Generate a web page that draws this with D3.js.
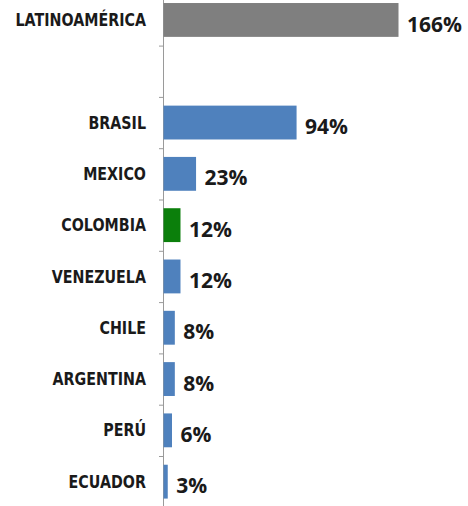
<!DOCTYPE html>
<html>
<head>
<meta charset="utf-8">
<script src="https://cdn.jsdelivr.net/npm/d3@7"></script>
<style>
  body { margin: 0; background: #fff; }
</style>
</head>
<body>
<svg id="chart" width="468" height="506"></svg>
<script>
// one empty row separates the region total from the countries
var categories = ["LATINOAMÉRICA", " ", "BRASIL", "MEXICO", "COLOMBIA", "VENEZUELA", "CHILE", "ARGENTINA", "PERÚ", "ECUADOR"];
var values = [166, null, 94, 23, 12, 12, 8, 8, 6, 3];
var barColors = ["#7f7f7f", null, "#4f81bd", "#4f81bd", "#0b7f0b", "#4f81bd", "#4f81bd", "#4f81bd", "#4f81bd", "#4f81bd"];

var svg = d3.select("#chart");
var axisX = 163;

var x = d3.scaleLinear().domain([0, 166]).range([axisX, 398]);
var y = d3.scaleBand()
  .domain(categories)
  .range([-5.7, 507.3])
  .paddingInner(0.34)
  .paddingOuter(0.17);

var data = categories.map((c, i) => ({ name: c, value: values[i], color: barColors[i] }));

// axis line with ticks between the rows
var tickScale = d3.scaleLinear().domain([0, categories.length]).range(y.range());
svg.append("g")
  .attr("transform", "translate(" + axisX + ",0)")
  .call(d3.axisLeft(tickScale).tickValues(d3.range(0, categories.length + 1)).tickFormat("").tickSize(4).tickSizeOuter(0))
  .call(g => g.select(".domain").attr("stroke", "#9a9a9a"))
  .call(g => g.selectAll(".tick line").attr("stroke", "#9a9a9a"));

var rows = svg.selectAll("g.row").data(data.filter(d => d.value != null)).enter()
  .append("g").attr("class", "row");

rows.append("rect")
  .attr("x", x(0) + 0.5)
  .attr("y", d => y(d.name))
  .attr("width", d => x(d.value) - x(0))
  .attr("height", y.bandwidth())
  .attr("fill", d => d.color);

// narrow heavy labels: squeeze a bold face horizontally
rows.append("text")
  .attr("transform", d => "translate(146," + (y(d.name) + y.bandwidth() / 2) + ") scale(0.84,1)")
  .attr("dy", "0.36em")
  .attr("text-anchor", "end")
  .style("font-family", "'DejaVu Sans', sans-serif")
  .style("font-weight", "bold")
  .style("font-size", "17px")
  .style("fill", "#1a1a1a")
  .text(d => d.name);

rows.append("text")
  .attr("x", d => x(d.value) + 9)
  .attr("y", d => y(d.name) + y.bandwidth() / 2 + 4)
  .attr("dy", "0.36em")
  .style("font-family", "'Open Sans', sans-serif")
  .style("font-weight", "bold")
  .style("font-size", "21px")
  .style("fill", "#1a1a1a")
  .text(d => d.value + "%");
</script>
</body>
</html>
